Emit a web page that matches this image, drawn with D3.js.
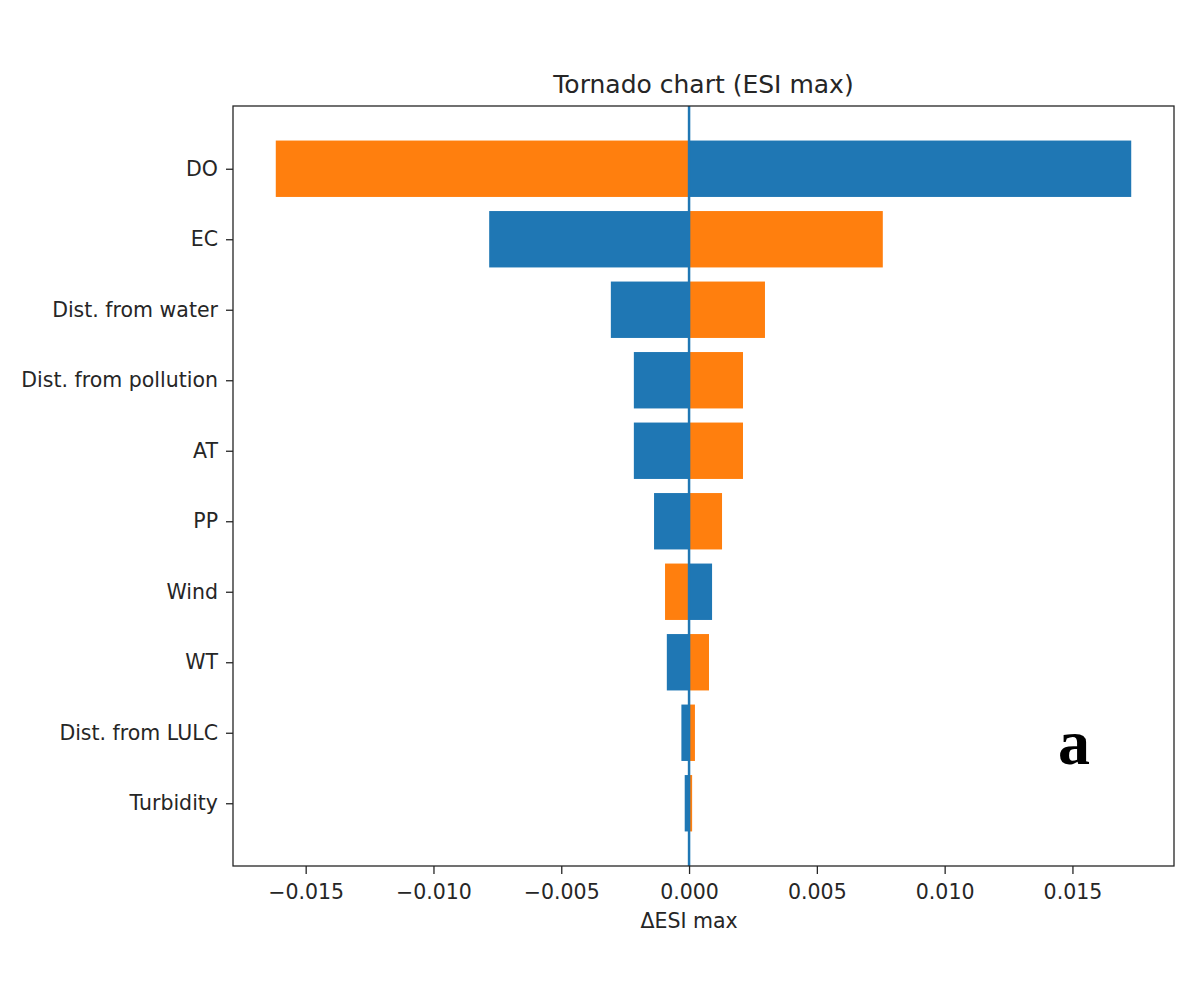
<!DOCTYPE html>
<html>
<head>
<meta charset="utf-8">
<script src="https://cdn.jsdelivr.net/npm/d3@7"></script>
<style>
  body { margin: 0; background: #fff; }
  text { font-family: "DejaVu Sans", sans-serif; fill: #262626; }
</style>
</head>
<body>
<div id="chart"></div>
<script>
// categories top to bottom
var categories = ["DO", "EC", "Dist. from water", "Dist. from pollution", "AT", "PP", "Wind", "WT", "Dist. from LULC", "Turbidity"];
// blue series (change in ESI max)
var blueValues = [0.0173, -0.00782, -0.00306, -0.00216, -0.00216, -0.00137, 0.00090, -0.00087, -0.00030, -0.00017];
// orange series
var orangeValues = [-0.01617, 0.00758, 0.00297, 0.00211, 0.00211, 0.00129, -0.00094, 0.00078, 0.00023, 0.00012];
var xTicks = [-0.015, -0.010, -0.005, 0.000, 0.005, 0.010, 0.015];

(function () {
    var width = 1200, height = 1000;
    var margin = { top: 106, right: 26, bottom: 134, left: 233 };

    var svg = d3.select('#chart')
                .append('svg')
                .attr('width', width)
                .attr('height', height);

    var w = width - margin.left - margin.right,
        h = height - margin.top - margin.bottom;

    var g = svg.append('g')
               .attr('transform', 'translate(' + margin.left + ',' + margin.top + ')');

    // matplotlib style autoscale with 5% margins
    var allVals = blueValues.concat(orangeValues);
    var lo = d3.min(allVals), hi = d3.max(allVals);
    var pad = (hi - lo) * 0.05;
    var xScale = d3.scaleLinear()
                   .domain([lo - pad, hi + pad])
                   .range([0, w]);

    var n = categories.length;
    var yPad = (n - 1 + 0.8) * 0.05;
    var yScale = d3.scaleLinear()
                   .domain([-0.4 - yPad, n - 1 + 0.4 + yPad])
                   .range([0, h]);
    var barH = yScale(0.8) - yScale(0);

    // bars
    function drawBars(values, color) {
        g.append('g').selectAll('rect')
            .data(values)
            .enter()
            .append('rect')
            .attr('x', function(d) { return xScale(Math.min(0, d)); })
            .attr('y', function(d, i) { return yScale(i - 0.4); })
            .attr('width', function(d) { return Math.abs(xScale(d) - xScale(0)); })
            .attr('height', barH)
            .style('fill', color);
    }
    drawBars(blueValues, '#1f77b4');
    drawBars(orangeValues, '#ff7f0e');

    // zero line
    g.append('line')
        .attr('x1', xScale(0)).attr('x2', xScale(0))
        .attr('y1', 0).attr('y2', h)
        .style('stroke', '#1f77b4')
        .style('stroke-width', 2.5);

    // x axis
    var xAxis = g.append('g')
        .attr('transform', 'translate(0,' + h + ')')
        .call(d3.axisBottom(xScale)
                .tickValues(xTicks)
                .tickSize(8)
                .tickPadding(10)
                .tickFormat(function(d) { return d3.format('.3f')(d).replace('-', '\u2212'); }));
    xAxis.select('.domain').remove();
    xAxis.selectAll('text').style('font-size', '20.5px');
    xAxis.selectAll('line').style('stroke', '#262626').style('stroke-width', 1.3);

    // y axis
    var yAxis = g.append('g')
        .call(d3.axisLeft(yScale)
                .tickValues(d3.range(n))
                .tickSize(7)
                .tickPadding(8)
                .tickFormat(function(d) { return categories[d]; }));
    yAxis.select('.domain').remove();
    yAxis.selectAll('text').style('font-size', '20.5px');
    yAxis.selectAll('line').style('stroke', '#262626').style('stroke-width', 1.3);

    // frame
    g.append('rect')
        .attr('width', w).attr('height', h)
        .style('fill', 'none')
        .style('stroke', '#262626')
        .style('stroke-width', 1.3);

    // title
    g.append('text')
        .attr('x', w / 2).attr('y', -13)
        .style('text-anchor', 'middle')
        .style('font-size', '25px')
        .text('Tornado chart (ESI max)');

    // x label
    g.append('text')
        .attr('x', xScale(0)).attr('y', h + 62)
        .style('text-anchor', 'middle')
        .style('font-size', '20.5px')
        .text('\u0394ESI max');

    // panel letter
    svg.append('text')
        .attr('x', 1074).attr('y', 764)
        .style('text-anchor', 'middle')
        .style('font-family', '"Liberation Serif", serif')
        .style('font-weight', 'bold')
        .style('font-size', '64px')
        .style('fill', '#000')
        .text('a');
})();
</script>
</body>
</html>
